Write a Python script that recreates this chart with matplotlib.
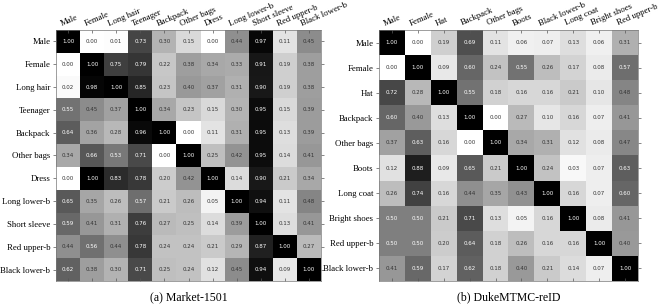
import numpy as np
import matplotlib
matplotlib.use("Agg")
import matplotlib.pyplot as plt

left_labels = ["Male", "Female", "Long hair", "Teenager", "Backpack", "Other bags",
               "Dress", "Long lower-b", "Short sleeve", "Red upper-b", "Black lower-b"]
left_values = [
    [1.00, 0.00, 0.01, 0.73, 0.30, 0.15, 0.00, 0.44, 0.97, 0.11, 0.45],
    [0.00, 1.00, 0.75, 0.79, 0.22, 0.38, 0.34, 0.33, 0.91, 0.19, 0.38],
    [0.02, 0.98, 1.00, 0.85, 0.23, 0.40, 0.37, 0.31, 0.90, 0.19, 0.38],
    [0.55, 0.45, 0.37, 1.00, 0.34, 0.23, 0.15, 0.30, 0.95, 0.15, 0.39],
    [0.64, 0.36, 0.28, 0.96, 1.00, 0.00, 0.11, 0.31, 0.95, 0.13, 0.39],
    [0.34, 0.66, 0.53, 0.71, 0.00, 1.00, 0.25, 0.42, 0.95, 0.14, 0.41],
    [0.00, 1.00, 0.83, 0.78, 0.20, 0.42, 1.00, 0.14, 0.90, 0.21, 0.34],
    [0.65, 0.35, 0.26, 0.57, 0.21, 0.26, 0.05, 1.00, 0.94, 0.11, 0.48],
    [0.59, 0.41, 0.31, 0.76, 0.27, 0.25, 0.14, 0.39, 1.00, 0.13, 0.41],
    [0.44, 0.56, 0.44, 0.78, 0.24, 0.24, 0.21, 0.29, 0.87, 1.00, 0.27],
    [0.62, 0.38, 0.30, 0.71, 0.25, 0.24, 0.12, 0.45, 0.94, 0.09, 1.00],
]

right_cols = ["Male", "Female", "Hat", "Backpack", "Other bags", "Boots",
              "Black lower-b", "Long coat", "Bright shoes", "Red upper-b"]
right_rows = ["Male", "Female", "Hat", "Backpack", "Other bags", "Boots",
              "Long coat", "Bright shoes", "Red upper-b", "Black lower-b"]
right_values = [
    [1.00, 0.00, 0.19, 0.69, 0.11, 0.06, 0.07, 0.13, 0.06, 0.31],
    [0.00, 1.00, 0.09, 0.60, 0.24, 0.55, 0.26, 0.17, 0.08, 0.57],
    [0.72, 0.28, 1.00, 0.55, 0.18, 0.16, 0.16, 0.21, 0.10, 0.48],
    [0.60, 0.40, 0.13, 1.00, 0.00, 0.27, 0.10, 0.16, 0.07, 0.41],
    [0.37, 0.63, 0.16, 0.00, 1.00, 0.34, 0.31, 0.12, 0.08, 0.47],
    [0.12, 0.88, 0.09, 0.65, 0.21, 1.00, 0.24, 0.03, 0.07, 0.63],
    [0.26, 0.74, 0.16, 0.44, 0.35, 0.43, 1.00, 0.16, 0.07, 0.60],
    [0.50, 0.50, 0.21, 0.71, 0.13, 0.05, 0.16, 1.00, 0.08, 0.41],
    [0.50, 0.50, 0.20, 0.64, 0.18, 0.26, 0.16, 0.16, 1.00, 0.40],
    [0.41, 0.59, 0.17, 0.62, 0.18, 0.40, 0.21, 0.14, 0.07, 1.00],
]

captions = ["(a) Market-1501", "(b) DukeMTMC-reID"]

W, H = 665, 308
fig = plt.figure(figsize=(W / 100, H / 100), dpi=100)
serif = "Liberation Serif"


def draw(rect, vals, cols, rows, caption):
    ax = fig.add_axes(rect)
    data = np.array(vals)
    ax.imshow(data, cmap="gray_r", vmin=0, vmax=1, aspect="auto",
              interpolation="nearest")
    nr, nc = data.shape
    for i in range(nr):
        for j in range(nc):
            v = data[i, j]
            ax.text(j, i, f"{v:.2f}", ha="center", va="center", fontsize=4,
                    color="white" if v >= 0.5 else "#333333")
    ax.set_xticks(range(nc))
    ax.set_xticklabels([])
    ax.set_yticks(range(nr))
    ax.set_yticklabels(rows, fontsize=6.3, family=serif)
    ax.tick_params(axis="y", left=True, right=True, direction="out",
                   length=2.5, width=0.5, color="#555555", pad=1.5)
    ax.tick_params(axis="x", top=True, bottom=True, direction="in",
                   length=2, width=0.5, color="#555555")
    for j, lab in enumerate(cols):
        ax.text(j - 0.25, -0.6, lab, rotation=23, ha="left", va="bottom",
                rotation_mode="anchor", fontsize=6.3, family=serif)
    for s in ax.spines.values():
        s.set_linewidth(0.5)
        s.set_color("#777777")
    x0 = rect[0] + rect[2] / 2
    fig.text(x0, 1 - 297 / H, caption, ha="center", va="center",
             fontsize=8.5, family=serif)


draw([56 / W, 1 - 281 / H, 265 / W, 251 / H], left_values, left_labels,
     left_labels, captions[0])
draw([379 / W, 1 - 281 / H, 259 / W, 251 / H], right_values, right_cols,
     right_rows, captions[1])

fig.savefig("out.png", dpi=100)
